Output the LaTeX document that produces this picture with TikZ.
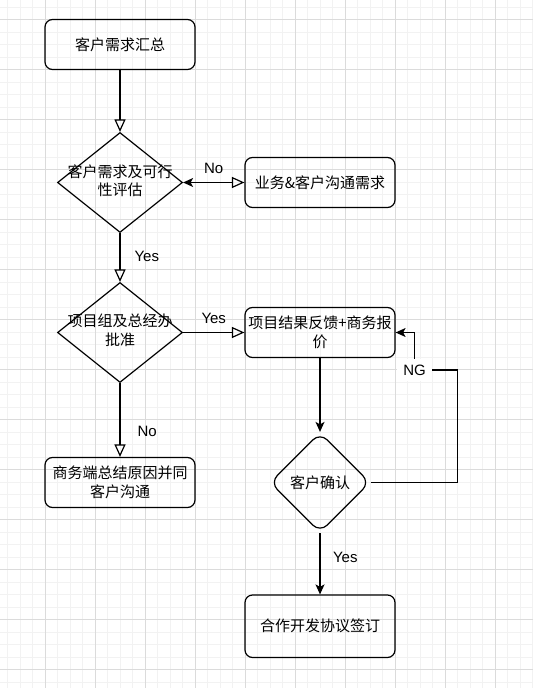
\documentclass[tikz,border=0pt]{standalone}
\usepackage{fontspec}
\setmainfont{Liberation Sans}
\newfontfamily\cjk{Noto Sans CJK SC}
\usetikzlibrary{arrows.meta,shapes.geometric}
\tikzset{
	box/.style={draw, rounded corners=7.5pt, line width=1.2pt, minimum width=150pt, minimum height=50pt, inner sep=0pt, align=center, font=\cjk\fontsize{15}{18.5}\selectfont},
	decision/.style={draw, diamond, line width=1.2pt, minimum width=125pt, minimum height=100pt, inner sep=0pt},
	dtext/.style={align=center, font=\cjk\fontsize{15}{18.5}\selectfont},
	flow/.style={line width=1.2pt, -{Triangle[open, length=12.5pt, width=11pt]}},
	back/.style={line width=1.2pt, -{Stealth[length=10pt, width=9pt, inset=2.5pt]}},
	lbl/.style={inner sep=0pt, font=\fontsize{15}{18}\selectfont},
	minorline/.style={draw=black!5, line width=1pt},
	majorline/.style={draw=black!14, line width=1pt}
}

\begin{document}
\begin{tikzpicture}[x=1pt, y=-1pt]
		\useasboundingbox (0,0) rectangle (533,688);
		\fill[white] (0,0) rectangle (533,688);
		\foreach \x in {7.5,20,...,532.5} \draw[minorline] (\x,0) -- (\x,688);
		\foreach \y in {7,19.5,...,687} \draw[minorline] (0,\y) -- (533,\y);
		\foreach \x in {45,95,...,495} \draw[majorline] (\x,0) -- (\x,688);
		\foreach \y in {19.5,69.5,...,669.5} \draw[majorline] (0,\y) -- (533,\y);

		\node[box] (sum) at (120,44.5) {客户需求汇总};
		\node[decision] (eval) at (120,182.5) {};
		\node[dtext, yshift=2pt] (evaltext) at (eval) {客户需求及可行\\性评估};
		\node[box] (talk) at (320,182.5) {业务\&客户沟通需求};
		\node[decision] (approve) at (120,332.5) {};
		\node[dtext, yshift=2pt] (approvetext) at (approve) {项目组及总经办\\批准};
		\node[box] (quote) at (320,332.5) {项目结果反馈+商务报\\价};
		\node[box] (reason) at (120,482.5) {商务端总结原因并同\\客户沟通};
		\node[decision, rounded corners=10pt, minimum width=100pt] (confirm) at (320,482.5) {};
		\node[dtext] (confirmtext) at (confirm) {客户确认};
		\node[box, minimum height=62.5pt] (sign) at (320,626.25) {合作开发协议签订};
		\coordinate (ngr) at (457.5,370);
		\coordinate (ngl) at (414.5,370);

		\draw[flow] (sum) -- (eval);
		\draw[line width=1.2pt, {Stealth[length=10pt, width=9pt, inset=2.5pt]}-{Triangle[open, length=12.5pt, width=11pt]}] (eval) -- node[lbl, above=8pt] {No} (talk);
		\draw[flow] (eval) -- node[lbl, pos=0.47, right=14pt] {Yes} (approve);
		\draw[flow] (approve) -- node[lbl, above=8pt] {Yes} (quote);
		\draw[flow] (approve) -- node[lbl, pos=0.66, right=17pt] {No} (reason);
		\draw[back] (quote) -- (confirm);
		\draw[back] (confirm) -- node[lbl, pos=0.39, right=12.5pt] {Yes} (sign);
		\draw[back] (confirm.east) -| (ngr) -- (ngl) node[lbl, fill=white, inner sep=6pt] {NG} |- (quote.east);
	\end{tikzpicture}
\end{document}
